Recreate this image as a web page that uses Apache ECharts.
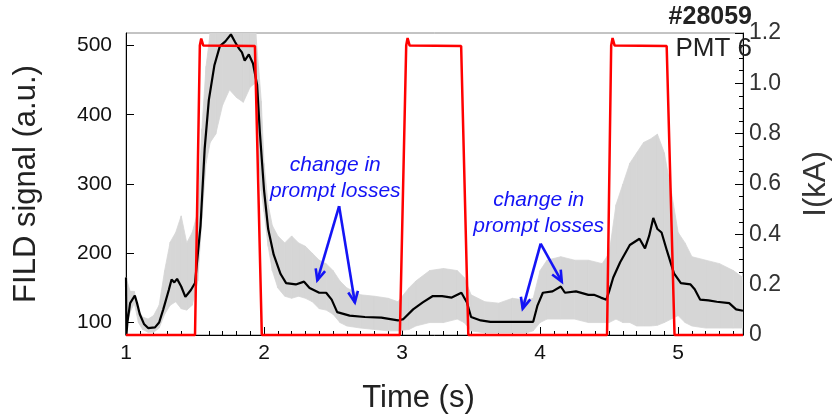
<!DOCTYPE html>
<html><head><meta charset="utf-8">
<script src="https://cdn.jsdelivr.net/npm/echarts@6/dist/echarts.min.js"></script>
<style>html,body{margin:0;padding:0;background:#fff}#c{width:840px;height:419px}</style>
</head><body><div id="c"></div>
<script>
// ---- smoothed FILD signal (left axis, a.u.)
const fildTime = [1.0,1.003,1.01,1.03,1.064,1.08,1.10,1.13,1.16,1.21,1.24,1.27,1.31,1.33,1.35,1.37,1.40,1.43,1.45,1.47,1.50,1.54,1.57,1.60,1.64,1.68,1.72,1.76,1.79,1.82,1.84,1.86,1.89,1.92,1.95,1.97,2.00,2.03,2.07,2.12,2.16,2.23,2.29,2.33,2.40,2.45,2.49,2.53,2.62,2.73,2.85,2.97,3.01,3.08,3.15,3.22,3.29,3.36,3.43,3.47,3.50,3.57,3.64,3.76,3.88,3.95,3.98,4.02,4.09,4.15,4.18,4.26,4.35,4.39,4.44,4.48,4.50,4.53,4.58,4.65,4.72,4.76,4.79,4.82,4.85,4.88,4.92,4.97,5.02,5.09,5.12,5.16,5.22,5.28,5.37,5.42,5.47];
const fildSmooth = [165,82,100,128,139,128,112,98,92,93,100,119,147,162,158,163,152,137,142,147,157,240,351,421,471,499,506,516,505,495,490,478,487,474,443,374,291,235,198,170,157,155,159,150,143,143,133,115,110,108,107,103,105,119,129,138,138,136,143,129,108,103,101,101,101,101,124,143,145,152,143,145,140,140,136,133,145,165,187,212,221,207,225,251,235,230,203,171,157,155,148,133,132,130,128,119,117];
// ---- raw FILD signal envelope (left axis)
const rawTime = [1.00,1.03,1.06,1.09,1.12,1.16,1.20,1.24,1.28,1.32,1.36,1.40,1.44,1.48,1.52,1.55,1.58,1.61,1.65,1.70,1.75,1.80,1.85,1.90,1.94,1.96,1.98,2.00,2.03,2.06,2.10,2.15,2.20,2.25,2.30,2.35,2.40,2.45,2.50,2.55,2.60,2.70,2.80,2.90,2.97,3.05,3.10,3.20,3.30,3.40,3.45,3.50,3.60,3.70,3.80,3.90,3.95,4.00,4.05,4.15,4.25,4.35,4.45,4.50,4.55,4.60,4.65,4.70,4.75,4.80,4.85,4.90,4.95,5.00,5.05,5.10,5.20,5.30,5.40,5.47];
const rawLow  = [95,115,128,100,90,86,86,92,112,125,130,120,118,125,160,250,330,360,372,414,436,425,418,440,446,340,290,260,210,175,150,138,135,138,135,130,120,118,112,100,95,92,90,88,88,90,95,100,100,105,100,88,85,85,85,85,88,100,105,105,105,100,100,100,105,100,100,95,95,95,96,100,105,110,100,95,92,92,92,92];
const rawHigh = [165,145,145,118,108,105,110,125,175,216,230,254,215,230,260,380,470,518,518,518,518,518,518,518,518,470,420,330,270,240,225,215,225,215,210,200,190,185,175,160,150,140,138,135,130,150,160,175,178,175,165,140,130,128,135,132,135,175,190,195,190,190,185,200,270,300,330,345,360,365,372,345,290,230,215,195,190,185,175,165];
// ---- coil current (right axis, kA)
const currTime  = [1.0,1.50,1.535,1.545,1.56,1.934,1.984,2.984,3.03,3.04,3.055,3.428,3.48,4.485,4.515,4.525,4.54,4.917,4.974,5.47];
const currValue = [0,0,1.15,1.178,1.15,1.148,0,0,1.15,1.18,1.15,1.148,0,0,1.15,1.18,1.15,1.148,0,0];
// ---- ticks
const xTicks = [1,2,3,4,5];
const leftTicks = [100,200,300,400,500];
// ---- annotations (data coordinates: time, FILD signal)
const noteText = ['change in\nprompt losses','change in\nprompt losses'];
const notePos = [[2.516,308],[3.99,258]];
const arrowLines = [[2.544,268,2.386,161],[2.544,268,2.658,129],[4.004,214,3.874,120],[4.004,214,4.157,159]];

const FONT = '"Liberation Sans", Arial, Helvetica, sans-serif';
const minorX = [];
for (let i = 11; i <= 54; i++) { if (i % 10 !== 0) minorX.push(i / 10); }

// band segments built from the envelope arrays
const bandSeg = [];
for (let i = 0; i < rawTime.length - 1; i++) {
  bandSeg.push([rawTime[i], rawLow[i], rawHigh[i], rawTime[i+1], rawLow[i+1], rawHigh[i+1]]);
}

const chart = echarts.init(document.getElementById('c'), null, {renderer:'canvas'});
const zip = (a,b) => a.map((t,i)=>[t,b[i]]);
chart.setOption({
  animation:false,
  grid:{left:126,right:83,top:33,bottom:72,show:true,borderColor:'#888',borderWidth:1,backgroundColor:'transparent'},
  xAxis:[{
    type:'value',min:1,max:5.47,
    axisLine:{show:true,onZero:false,lineStyle:{color:'#000',width:1}},
    axisTick:{show:true,inside:true,length:8,customValues:xTicks,lineStyle:{color:'#000'}},
    axisLabel:{customValues:xTicks,fontSize:21,color:'#111',margin:8,fontFamily:FONT},
    splitLine:{show:false},
    name:'Time (s)',nameLocation:'middle',nameGap:48,
    nameTextStyle:{fontSize:31,color:'#222',fontFamily:FONT,padding:[0,32,0,0]}
  },{
    type:'value',min:1,max:5.47,position:'bottom',
    axisLine:{show:false},
    axisTick:{show:true,inside:true,length:4,customValues:minorX,lineStyle:{color:'#000'}},
    axisLabel:{show:false},splitLine:{show:false}
  }],
  yAxis:[{
    type:'value',min:82,max:518,position:'left',
    axisLine:{show:true,onZero:false,lineStyle:{color:'#000',width:1}},
    axisTick:{show:true,inside:true,length:8,customValues:leftTicks,lineStyle:{color:'#000'}},
    axisLabel:{customValues:leftTicks,fontSize:21,color:'#111',margin:14,fontFamily:FONT},
    splitLine:{show:false},
    name:'FILD signal (a.u.)',nameLocation:'middle',nameGap:84,nameRotate:90,
    nameTextStyle:{fontSize:31,color:'#222',fontFamily:FONT}
  },{
    type:'value',min:0,max:1.2,interval:0.2,position:'right',
    axisLine:{show:true,onZero:false,lineStyle:{color:'#000',width:1}},
    axisTick:{show:true,inside:true,length:8,lineStyle:{color:'#000'}},
    minorTick:{show:true,splitNumber:4,length:4,lineStyle:{color:'#000'}},
    axisLabel:{fontSize:23,color:'#333',margin:6,fontFamily:FONT,
      formatter:v=>v===0?'0':v.toFixed(1)},
    splitLine:{show:false},minorSplitLine:{show:false},
    name:'I(kA)',nameLocation:'middle',nameGap:58,nameRotate:90,
    nameTextStyle:{fontSize:31,color:'#333',fontFamily:FONT}
  }],
  series:[
    {type:'custom',name:'raw',xAxisIndex:0,yAxisIndex:0,clip:true,z:1,silent:true,
     encode:{x:[0,3],y:[1,2,4,5]},data:bandSeg,
     renderItem:(params,api)=>{
       const a=api.coord([api.value(0),api.value(1)]);
       const b=api.coord([api.value(3),api.value(4)]);
       const c=api.coord([api.value(3),api.value(5)]);
       const d=api.coord([api.value(0),api.value(2)]);
       return {type:'polygon',shape:{points:[a,b,c,d]},
         style:{fill:'#d6d6d6',stroke:'#d6d6d6',lineWidth:0.8}};
     }},
    {type:'line',name:'FILD',xAxisIndex:0,yAxisIndex:0,symbol:'none',z:3,
     data:zip(fildTime,fildSmooth),lineStyle:{color:'#000',width:2.2}},
    {type:'line',name:'I',xAxisIndex:0,yAxisIndex:1,symbol:'none',clip:false,
     data:zip(currTime,currValue),lineStyle:{color:'#ff0000',width:2.5},z:5},
    {type:'custom',name:'arrows',xAxisIndex:0,yAxisIndex:0,clip:false,z:6,
     encode:{x:[0,2],y:[1,3]},data:arrowLines,
     renderItem:(params,api)=>{
       const p0=api.coord([api.value(0),api.value(1)]);
       const p1=api.coord([api.value(2),api.value(3)]);
       const ang=Math.atan2(p1[1]-p0[1],p1[0]-p0[0]);
       const L=12,a=0.42;
       const h1=[p1[0]-L*Math.cos(ang-a),p1[1]-L*Math.sin(ang-a)];
       const h2=[p1[0]-L*Math.cos(ang+a),p1[1]-L*Math.sin(ang+a)];
       return {type:'group',children:[
         {type:'line',shape:{x1:p0[0],y1:p0[1],x2:p1[0],y2:p1[1]},style:{stroke:'#1414f5',lineWidth:2.6}},
         {type:'polyline',shape:{points:[h1,p1,h2]},style:{stroke:'#1414f5',lineWidth:2.6,fill:null}}
       ]};
     }},
    {type:'custom',name:'notes',xAxisIndex:0,yAxisIndex:0,clip:false,z:6,
     encode:{x:0,y:1},data:notePos,
     renderItem:(params,api)=>{
       const p=api.coord([api.value(0),api.value(1)]);
       return {type:'text',x:p[0],y:p[1],style:{text:noteText[params.dataIndex],
         fontSize:21,fontStyle:'italic',fontFamily:FONT,fill:'#1414f5',
         align:'center',verticalAlign:'middle',lineHeight:26}};
     }}
  ],
  graphic:[
    {type:'text',right:88,top:5,z:10,style:{text:'#28059',font:'bold 25px '+FONT,fill:'#222'}},
    {type:'text',right:88,top:36,z:10,style:{text:'PMT 6',font:'26px '+FONT,fill:'#222'}}
  ]
});
</script></body></html>
